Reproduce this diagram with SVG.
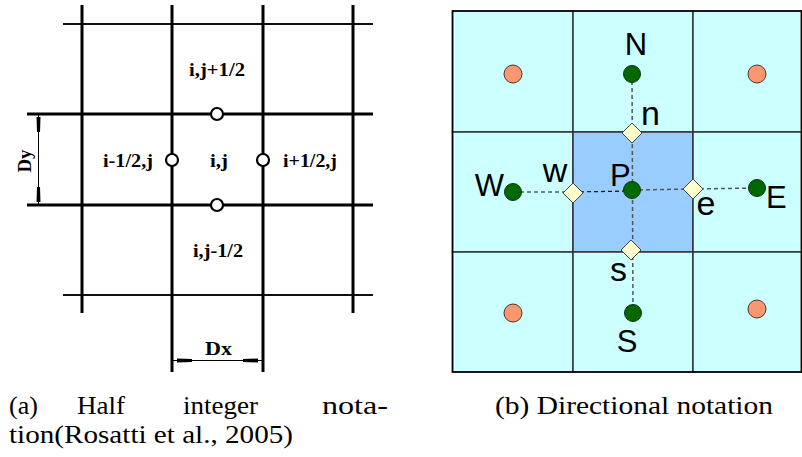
<svg xmlns="http://www.w3.org/2000/svg" width="802" height="457" viewBox="0 0 802 457">
<style>
.g3{stroke:#000;stroke-width:3;fill:none}
.g2{stroke:#111;stroke-width:2;fill:none}
.oc{fill:#fff;stroke:#000;stroke-width:2.2}
.lab{font-family:"Liberation Serif",serif;font-weight:bold;font-size:19px;fill:#000}
.cell{fill:#ccffff;stroke:#333;stroke-width:1.5}
.grn{fill:#006a00;stroke:#113311;stroke-width:1}
.org{fill:#fa9670;stroke:#553322;stroke-width:1}
.dia{fill:#ffffcc;stroke:#444;stroke-width:1}
.dk{stroke:#111;stroke-width:1.2;stroke-dasharray:4 3;fill:none}
.dg{stroke:#555;stroke-width:1.5;stroke-dasharray:4 3;fill:none}
.big{font-family:"Liberation Sans",Arial,sans-serif;font-size:31px;fill:#000}
.sm{font-family:"Liberation Sans",Arial,sans-serif;font-size:34px;fill:#000}
.cap{font-family:"Liberation Serif",serif;font-size:26px;fill:#000}
</style>
<rect width="802" height="457" fill="#fff"/>

<!-- Panel (a) -->
<g id="gridA">
  <line class="g2" x1="63" y1="24" x2="373" y2="24"/>
  <line class="g3" x1="27" y1="114" x2="373" y2="114"/>
  <line class="g3" x1="27" y1="205" x2="373" y2="205"/>
  <line class="g2" x1="63" y1="295" x2="373" y2="295"/>
  <line class="g3" x1="82" y1="5" x2="82" y2="313"/>
  <line class="g3" x1="172" y1="5" x2="172" y2="372"/>
  <line class="g3" x1="263" y1="5" x2="263" y2="372"/>
  <line class="g3" x1="353" y1="5" x2="353" y2="313"/>
</g>
<g id="nodeTop"><circle class="oc" cx="217" cy="114" r="6"/><text class="lab" x="189" y="76" textLength="56" lengthAdjust="spacingAndGlyphs">i,j+1/2</text></g>
<g id="nodeLeft"><circle class="oc" cx="172" cy="160" r="6"/><text class="lab" x="103" y="167" textLength="50" lengthAdjust="spacingAndGlyphs">i-1/2,j</text></g>
<g id="nodeCenter"><text class="lab" x="210" y="167" textLength="18" lengthAdjust="spacingAndGlyphs">i,j</text></g>
<g id="nodeRight"><circle class="oc" cx="263" cy="160" r="6"/><text class="lab" x="283" y="167" textLength="54" lengthAdjust="spacingAndGlyphs">i+1/2,j</text></g>
<g id="nodeBottom"><circle class="oc" cx="217" cy="205" r="6"/><text class="lab" x="193" y="257" textLength="50" lengthAdjust="spacingAndGlyphs">i,j-1/2</text></g>
<g id="dimDy">
  <line x1="38.5" y1="114" x2="38.5" y2="205" stroke="#000" stroke-width="1"/>
  <polygon points="36.5,117 40.5,117 40,132 37,132" fill="#000"/>
  <polygon points="37,187 40,187 40.5,202 36.5,202" fill="#000"/>
  <text class="lab" transform="translate(31,161) rotate(-90)" text-anchor="middle" textLength="23" lengthAdjust="spacingAndGlyphs">Dy</text>
</g>
<g id="dimDx">
  <line x1="172" y1="360.5" x2="263" y2="360.5" stroke="#000" stroke-width="1"/>
  <polygon points="177,358.5 177,362.5 192,362 192,359" fill="#000"/>
  <polygon points="243,359 243,362 258,362.5 258,358.5" fill="#000"/>
  <text class="lab" x="205" y="355" textLength="27" lengthAdjust="spacingAndGlyphs">Dx</text>
</g>

<!-- Panel (b) -->
<g id="cells">
  <rect class="cell" x="452.5" y="11" width="120.5" height="121"/>
  <rect class="cell" x="573" y="11" width="120" height="121"/>
  <rect class="cell" x="693" y="11" width="108.5" height="121"/>
  <rect class="cell" x="452.5" y="132" width="120.5" height="120"/>
  <rect x="573" y="132" width="120" height="120" fill="#99ccff" stroke="#333" stroke-width="1.5"/>
  <rect class="cell" x="693" y="132" width="108.5" height="120"/>
  <rect class="cell" x="452.5" y="252" width="120.5" height="120"/>
  <rect class="cell" x="573" y="252" width="120" height="120"/>
  <rect class="cell" x="693" y="252" width="108.5" height="120"/>
  <rect x="452.5" y="11" width="349" height="361" fill="none" stroke="#000" stroke-width="1.5"/>
</g>
<g id="connectors">
  <line class="dg" x1="632" y1="74" x2="633" y2="313"/>
  <line class="dk" x1="513" y1="192" x2="573" y2="192"/>
  <line class="dk" x1="573" y1="192" x2="632" y2="191"/>
  <line class="dg" x1="632" y1="190" x2="693" y2="189"/>
  <line class="dg" x1="693" y1="189" x2="757" y2="188"/>
</g>
<g id="cornerNW"><circle class="org" cx="513" cy="74" r="9"/></g>
<g id="cornerNE"><circle class="org" cx="757" cy="74" r="9"/></g>
<g id="cornerSW"><circle class="org" cx="513" cy="313" r="9"/></g>
<g id="cornerSE"><circle class="org" cx="757" cy="309" r="9"/></g>
<g id="N"><circle class="grn" cx="632" cy="74" r="8.5"/><text class="big" x="636" y="55" text-anchor="middle">N</text></g>
<g id="S"><circle class="grn" cx="633" cy="313" r="8.5"/><text class="big" x="627" y="352" text-anchor="middle">S</text></g>
<g id="W"><circle class="grn" cx="513" cy="192" r="8.5"/><text class="big" x="504" y="196" text-anchor="end">W</text></g>
<g id="E"><circle class="grn" cx="757" cy="188" r="8.5"/><text class="big" x="766" y="208">E</text></g>
<g id="P"><circle class="grn" cx="632" cy="190" r="8.5"/><text class="big" x="610" y="186">P</text></g>
<g id="n"><polygon class="dia" points="632,123 642,133 632,143 622,133"/><text class="sm" x="641" y="125">n</text></g>
<g id="s"><polygon class="dia" points="631,240 641,250 631,260 621,250"/><text class="sm" x="610" y="281">s</text></g>
<g id="w"><polygon class="dia" points="573,183 583,193 573,203 563,193"/><text class="sm" x="555" y="182" text-anchor="middle">w</text></g>
<g id="e"><polygon class="dia" points="693,179 703,189 693,199 683,189"/><text class="sm" x="706" y="215" text-anchor="middle">e</text></g>

<!-- Captions -->
<g id="captions">
  <text class="cap" x="9" y="414">(a)</text>
  <text class="cap" x="77" y="414" textLength="48" lengthAdjust="spacingAndGlyphs">Half</text>
  <text class="cap" x="183" y="414" textLength="75" lengthAdjust="spacingAndGlyphs">integer</text>
  <text class="cap" x="322" y="414" textLength="66" lengthAdjust="spacingAndGlyphs">nota-</text>
  <text class="cap" x="9" y="443" textLength="284" lengthAdjust="spacingAndGlyphs">tion(Rosatti et al., 2005)</text>
  <text class="cap" x="495" y="414" textLength="278" lengthAdjust="spacingAndGlyphs">(b) Directional notation</text>
</g>
</svg>
